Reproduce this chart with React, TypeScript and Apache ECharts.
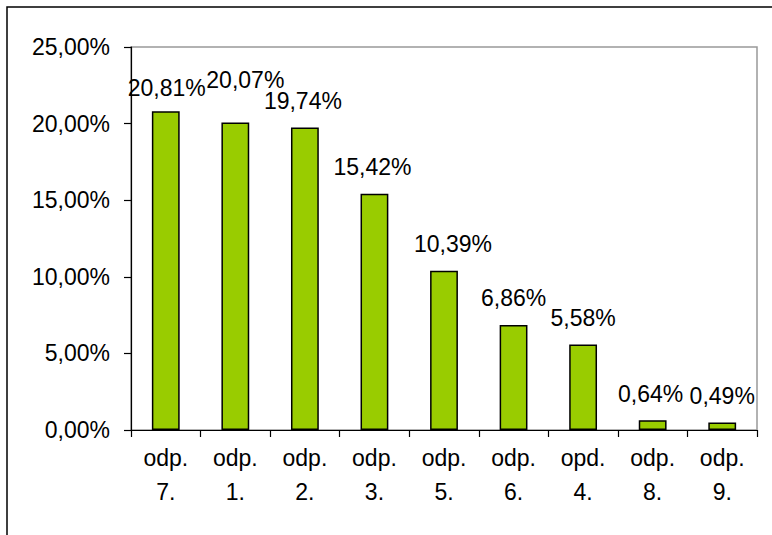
import React, { useEffect, useRef } from "react";
import * as echarts from "echarts";

const categories = ["odp.\n7.", "odp.\n1.", "odp.\n2.", "odp.\n3.", "odp.\n5.", "odp.\n6.", "opd.\n4.", "odp.\n8.", "odp.\n9."];
const values = [20.81, 20.07, 19.74, 15.42, 10.39, 6.86, 5.58, 0.64, 0.49];
const labelOffsets = [[1, 3], [10, -16], [-2, 0], [-2, 0], [9, 0], [0, 0], [0, 0], [-2, 0], [0, 0]];

const fmt = (v: number) => v.toFixed(2).replace(".", ",") + "%";

export default function App() {
  const ref = useRef<HTMLDivElement>(null);
  useEffect(() => {
    const chart = echarts.init(ref.current!, null, { renderer: "svg" });
    const font = "'Liberation Sans', Arial, sans-serif";
    chart.setOption({
      animation: false,
      backgroundColor: "#fff",
      textStyle: { fontFamily: font },
      graphic: [
        {
          type: "rect",
          shape: { x: 7, y: 7, width: 820, height: 600 },
          style: { fill: "none", stroke: "#000", lineWidth: 1.5 },
          z: 100,
        },
      ],
      grid: {
        left: 131,
        top: 47,
        right: 15,
        bottom: 105,
        show: true,
        borderColor: "#999",
        borderWidth: 1.5,
      },
      xAxis: {
        type: "category",
        data: categories,
        axisLine: { lineStyle: { color: "#000", width: 1.2 } },
        axisTick: { show: true, length: 7, lineStyle: { color: "#000", width: 1.2 } },
        axisLabel: {
          color: "#000",
          fontSize: 23,
          lineHeight: 34,
          margin: 11,
          fontFamily: font,
          interval: 0,
        },
      },
      yAxis: {
        type: "value",
        min: 0,
        max: 25,
        interval: 5,
        splitLine: { show: false },
        axisLine: { show: true, lineStyle: { color: "#000", width: 1.2 } },
        axisTick: { show: true, length: 7, lineStyle: { color: "#000", width: 1.2 } },
        axisLabel: {
          color: "#000",
          fontSize: 23,
          margin: 21,
          fontFamily: font,
          formatter: (v: number) => fmt(v),
        },
      },
      series: [
        {
          type: "bar",
          barWidth: "40%",
          data: values.map((v, i) => ({ value: v, label: { offset: labelOffsets[i] } })),
          itemStyle: { color: "#99cc00", borderColor: "#000", borderWidth: 1.5 },
          label: {
            show: true,
            position: "top",
            distance: 15,
            color: "#000",
            fontSize: 23,
            fontFamily: font,
            formatter: (p: any) => fmt(p.value),
          },
        },
      ],
    });
    return () => chart.dispose();
  }, []);
  return (
    <div
      ref={ref}
      style={{ position: "absolute", left: 0, top: 0, width: 772, height: 535 }}
    />
  );
}
